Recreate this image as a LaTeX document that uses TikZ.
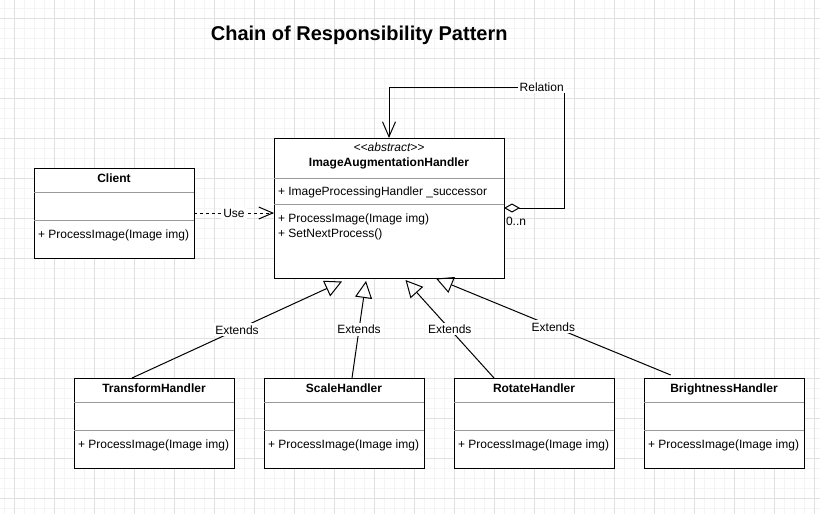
\documentclass[tikz,border=0pt]{standalone}
\usepackage{fontspec}
\setmainfont{Liberation Sans}
\newfontfamily\plainsans{Liberation Sans}
\usetikzlibrary{arrows.meta}
\definecolor{gridmajor}{HTML}{E0E0E0}
\definecolor{gridminor}{HTML}{F4F4F4}
\definecolor{sepgray}{HTML}{9A9A9A}
\begin{document}
\begin{tikzpicture}[x=0.75pt,y=-0.75pt, line width=0.75pt,
  every node/.style={font=\fontsize{9}{10.8}\selectfont, inner sep=0pt, outer sep=0pt},
  umlbox/.style={draw=black, fill=white, anchor=north west, minimum width=120pt, minimum height=67.5pt},
  sepline/.style={draw=sepgray},
  cname/.style={font=\fontsize{9}{10.8}\selectfont\bfseries, anchor=base},
  member/.style={anchor=base west},
  lbl/.style={fill=white, inner sep=1.5pt},
  extends/.style={draw=black, -{Triangle[open,length=12.75pt,width=12.75pt]}},
  usedash/.style={dash pattern=on 2.25pt off 2.25pt, -{Straight Barb[length=10.5pt,width=9pt]}},
]
\fill[white] (0,0) rectangle (820,514);
\useasboundingbox (0,0) rectangle (820,514);
% grid
\foreach \x in {4,14,...,814} \draw[gridminor] (\x,0) -- (\x,514);
\foreach \y in {8,18,...,508} \draw[gridminor] (0,\y) -- (820,\y);
\foreach \x in {14,54,...,814} \draw[gridmajor] (\x,0) -- (\x,514);
\foreach \y in {18,58,...,498} \draw[gridmajor] (0,\y) -- (820,\y);

% title
\node[font=\fontsize{15}{18}\selectfont\bfseries, anchor=base] (title) at (359.2,40) {Chain of Responsibility Pattern};

% main abstract class
\node[umlbox, minimum width=172.5pt, minimum height=105pt] (main) at (274,138) {};
\draw[sepline] (274,178) -- (504,178);
\draw[sepline] (274,204) -- (504,204);
\node[font=\fontsize{9}{10.8}\plainsans\itshape, anchor=base] (stereo) at (389,151.5) {<\kern0pt<abstract>\kern0pt>};
\node[cname] (mainname) at (389,166.6) {ImageAugmentationHandler};
\node[member] (mainattr) at (278,195.3) {+ ImageProcessingHandler \_successor};
\node[member] (mainm1) at (278,222) {+ ProcessImage(Image img)};
\node[member] (mainm2) at (278,237.3) {+ SetNextProcess()};

% client
\node[umlbox] (client) at (34,168) {};
\draw[sepline] (34,192) -- (194,192);
\draw[sepline] (34,220) -- (194,220);
\node[cname] (clientname) at (114,182.6) {Client};
\node[member] (clientm) at (38,238.3) {+ ProcessImage(Image img)};

% subclasses
\node[umlbox] (transform) at (74,378) {};
\node[umlbox] (scale) at (264,378) {};
\node[umlbox] (rotate) at (454,378) {};
\node[umlbox] (brightness) at (644,378) {};
\foreach \bx in {74,264,454,644} {
  \draw[sepline] (\bx,402) -- (\bx+160,402);
  \draw[sepline] (\bx,430) -- (\bx+160,430);
}
\node[cname] (tname) at (154,392.6) {TransformHandler};
\node[cname] (sname) at (344,392.6) {ScaleHandler};
\node[cname] (rname) at (534,392.6) {RotateHandler};
\node[cname] (bname) at (724,392.6) {BrightnessHandler};
\node[member] (tm) at (78,448.3) {+ ProcessImage(Image img)};
\node[member] (sm) at (268,448.3) {+ ProcessImage(Image img)};
\node[member] (rm) at (458,448.3) {+ ProcessImage(Image img)};
\node[member] (bm) at (648,448.3) {+ ProcessImage(Image img)};

% Use dependency
\draw[usedash] (client.east) -- (client.east -| main.west) node[midway, lbl] (uselbl) {Use};

% Relation (self aggregation)
\coordinate (relR) at (564,87);
\coordinate (relL) at (389,87);
\draw[{Diamond[open,length=12pt,width=6.75pt]}-{Straight Barb[length=11.25pt,width=9.75pt]}]
  (main.east) -| (relR) -- (relL) -- (relL |- main.north);
\node[lbl] (rellbl) at (541.7,87) {Relation};
\node[anchor=base west] (mult) at (506,225) {0..n};

% Extends
\coordinate (tipA) at (342,281.5);
\coordinate (tipB) at (366,281);
\coordinate (tipC) at (405.5,280);
\coordinate (tipD) at (436,278.5);
\draw[extends] (transform.north west) ++(58,0) -- (tipA) node[midway, lbl] (e1) {Extends};
\draw[extends] (scale.north west) ++(88,0) -- (tipB) node[midway, lbl] (e2) {Extends};
\draw[extends] (rotate.north west) ++(40,0) -- (tipC) node[midway, lbl] (e3) {Extends};
\draw[extends] (brightness.north west) ++(26.7,-3) -- (tipD) node[midway, lbl] (e4) {Extends};
\end{tikzpicture}
\end{document}
